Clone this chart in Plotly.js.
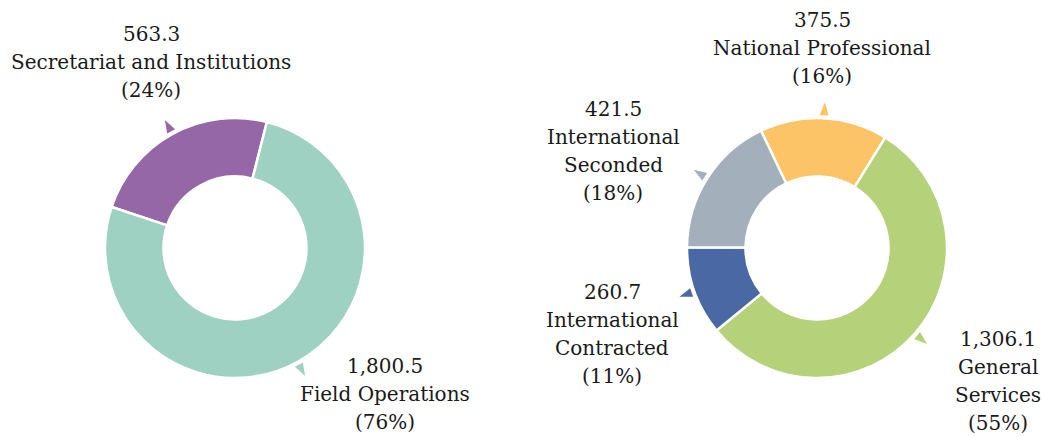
<!DOCTYPE html>
<html>
<head>
<meta charset="utf-8">
<script src="https://cdn.plot.ly/plotly-3.0.1.min.js"></script>
<style>
  html, body { margin: 0; padding: 0; background: #fff; }
  #chart { width: 1044px; height: 437px; }
</style>
</head>
<body>
<div id="chart"></div>
<script>
// data (millions)
const orgUnits = ['Secretariat and Institutions', 'Field Operations'];
const orgValues = [563.3, 1800.5];
const orgColors = ['#9567a7', '#9ed1c1'];

const staffTypes = ['National Professional', 'General Services', 'International Contracted', 'International Seconded'];
const staffValues = [375.5, 1306.1, 260.7, 421.5];
const staffColors = ['#fdc467', '#b5d27a', '#4a69a4', '#a3b0bb'];

// how each label is broken into lines
const orgLabelLines = [['Secretariat and Institutions'], ['Field Operations']];
const staffLabelLines = [['National Professional'], ['General', 'Services'], ['International', 'Contracted'], ['International', 'Seconded']];

const W = 1044, H = 437;
const px = (x) => x / W;
const py = (y) => 1 - y / H;

// pie geometry in pixels
const R = 130;
const leftPie = {cx: 235, cy: 248, rotation: -71.6};
const rightPie = {cx: 817, cy: 248, rotation: -25.5};

// label block centres in pixels (bottom ones nudged up so nothing is clipped)
const orgLabelPos = [[151, 62], [385, 394]];
const staffLabelPos = [[822, 48], [998, 381], [612, 334], [613, 151]];
const lineGap = 28;

function fmt(v) {
  return v.toLocaleString('en-US', {minimumFractionDigits: 1, maximumFractionDigits: 1});
}

function pieTrace(pie, labels, values, colors) {
  return {
    type: 'pie',
    labels: labels,
    values: values,
    hole: 0.55,
    sort: false,
    direction: 'clockwise',
    rotation: pie.rotation,
    textinfo: 'none',
    hoverinfo: 'label+value+percent',
    marker: {colors: colors, line: {color: '#ffffff', width: 2.5}},
    domain: {
      x: [px(pie.cx - R), px(pie.cx + R)],
      y: [py(pie.cy + R), py(pie.cy - R)],
    },
    showlegend: false,
  };
}

const annotations = [];
const shapes = [];

function addLabels(pie, values, colors, lines, pos) {
  const total = values.reduce((a, b) => a + b, 0);
  let start = pie.rotation * Math.PI / 180;
  values.forEach((v, i) => {
    const pct = Math.round(v / total * 100);
    const block = [fmt(v)].concat(lines[i], ['(' + pct + '%)']);
    block.forEach((t, j) => {
      annotations.push({
        xref: 'paper', yref: 'paper',
        x: px(pos[i][0]),
        y: py(pos[i][1] + (j - (block.length - 1) / 2) * lineGap),
        xanchor: 'center', yanchor: 'middle',
        text: t,
        showarrow: false,
        font: {family: 'DejaVu Serif', size: 20, color: '#1a1a1a'},
      });
    });
    // little pointer at the middle of the slice
    const span = v / total * 2 * Math.PI;
    const mid = start + span / 2;
    start += span;
    const s = Math.sin(mid), c = -Math.cos(mid);
    const tip = [pie.cx + (R + 16) * s, pie.cy + (R + 16) * c];
    const base = [pie.cx + (R + 3) * s, pie.cy + (R + 3) * c];
    const hw = 4.5;
    const b1 = [base[0] - c * hw, base[1] + s * hw];
    const b2 = [base[0] + c * hw, base[1] - s * hw];
    shapes.push({
      type: 'path', xref: 'paper', yref: 'paper',
      path: 'M ' + px(tip[0]) + ' ' + py(tip[1]) +
        ' L ' + px(b1[0]) + ' ' + py(b1[1]) +
        ' L ' + px(b2[0]) + ' ' + py(b2[1]) + ' Z',
      fillcolor: colors[i],
      line: {width: 0},
    });
  });
}

addLabels(leftPie, orgValues, orgColors, orgLabelLines, orgLabelPos);
addLabels(rightPie, staffValues, staffColors, staffLabelLines, staffLabelPos);

const data = [
  pieTrace(leftPie, orgUnits, orgValues, orgColors),
  pieTrace(rightPie, staffTypes, staffValues, staffColors),
];

const layout = {
  width: W,
  height: H,
  margin: {l: 0, r: 0, t: 0, b: 0},
  paper_bgcolor: '#ffffff',
  annotations: annotations,
  shapes: shapes,
};

Plotly.newPlot('chart', data, layout, {displayModeBar: false, staticPlot: true});
</script>
</body>
</html>
